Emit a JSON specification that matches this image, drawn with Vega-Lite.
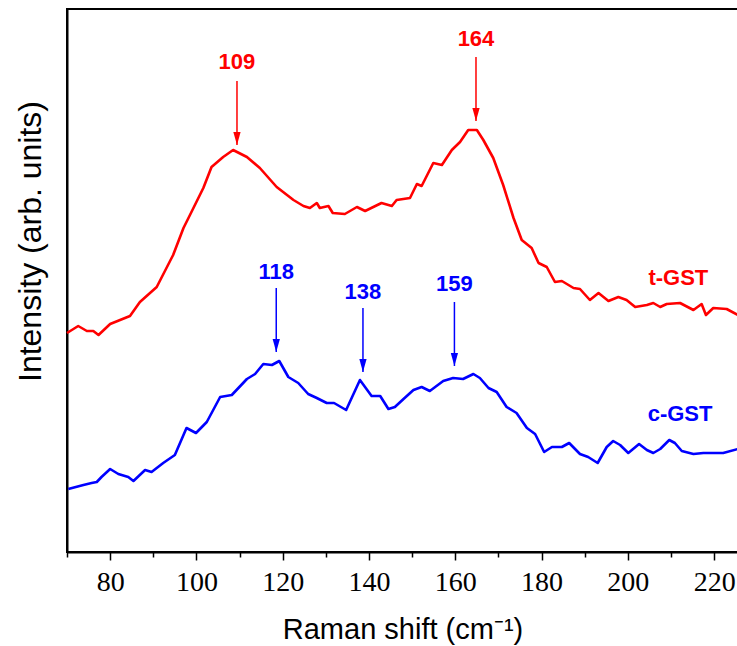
{
  "$schema": "https://vega.github.io/schema/vega-lite/v6.json",
  "width": 671,
  "height": 543,
  "autosize": {"type": "none"},
  "padding": {"left": 67, "top": 9, "right": 0, "bottom": 94},
  "background": "#ffffff",
  "config": {"view": {"stroke": "#000000", "strokeWidth": 2}, "font": "Liberation Sans"},
  "datasets": {
    "spectra": [
      {"sample": "t-GST", "shift": 70.0, "intensity": 219},
      {"sample": "t-GST", "shift": 72.6, "intensity": 226},
      {"sample": "t-GST", "shift": 74.6, "intensity": 221},
      {"sample": "t-GST", "shift": 76.1, "intensity": 221},
      {"sample": "t-GST", "shift": 77.3, "intensity": 217},
      {"sample": "t-GST", "shift": 80.0, "intensity": 228},
      {"sample": "t-GST", "shift": 82.3, "intensity": 232},
      {"sample": "t-GST", "shift": 84.6, "intensity": 236},
      {"sample": "t-GST", "shift": 86.9, "intensity": 250},
      {"sample": "t-GST", "shift": 90.8, "intensity": 265},
      {"sample": "t-GST", "shift": 94.6, "intensity": 297},
      {"sample": "t-GST", "shift": 97.0, "intensity": 324},
      {"sample": "t-GST", "shift": 98.5, "intensity": 337},
      {"sample": "t-GST", "shift": 101.6, "intensity": 364},
      {"sample": "t-GST", "shift": 103.5, "intensity": 385},
      {"sample": "t-GST", "shift": 106.2, "intensity": 395},
      {"sample": "t-GST", "shift": 108.5, "intensity": 402},
      {"sample": "t-GST", "shift": 111.7, "intensity": 395},
      {"sample": "t-GST", "shift": 114.7, "intensity": 384},
      {"sample": "t-GST", "shift": 118.6, "intensity": 365},
      {"sample": "t-GST", "shift": 122.5, "intensity": 352},
      {"sample": "t-GST", "shift": 124.8, "intensity": 346},
      {"sample": "t-GST", "shift": 126.3, "intensity": 344},
      {"sample": "t-GST", "shift": 127.9, "intensity": 349},
      {"sample": "t-GST", "shift": 128.6, "intensity": 344},
      {"sample": "t-GST", "shift": 130.6, "intensity": 346},
      {"sample": "t-GST", "shift": 131.6, "intensity": 339},
      {"sample": "t-GST", "shift": 134.4, "intensity": 338},
      {"sample": "t-GST", "shift": 137.2, "intensity": 345},
      {"sample": "t-GST", "shift": 139.1, "intensity": 341},
      {"sample": "t-GST", "shift": 142.9, "intensity": 349},
      {"sample": "t-GST", "shift": 145.3, "intensity": 346},
      {"sample": "t-GST", "shift": 146.4, "intensity": 352},
      {"sample": "t-GST", "shift": 149.5, "intensity": 354},
      {"sample": "t-GST", "shift": 151.1, "intensity": 368},
      {"sample": "t-GST", "shift": 152.2, "intensity": 366},
      {"sample": "t-GST", "shift": 154.9, "intensity": 389},
      {"sample": "t-GST", "shift": 156.9, "intensity": 387},
      {"sample": "t-GST", "shift": 159.2, "intensity": 402},
      {"sample": "t-GST", "shift": 161.1, "intensity": 410},
      {"sample": "t-GST", "shift": 163.0, "intensity": 422},
      {"sample": "t-GST", "shift": 165.0, "intensity": 422},
      {"sample": "t-GST", "shift": 166.5, "intensity": 412},
      {"sample": "t-GST", "shift": 168.8, "intensity": 394},
      {"sample": "t-GST", "shift": 171.1, "intensity": 367},
      {"sample": "t-GST", "shift": 173.5, "intensity": 334},
      {"sample": "t-GST", "shift": 175.4, "intensity": 312},
      {"sample": "t-GST", "shift": 177.7, "intensity": 304},
      {"sample": "t-GST", "shift": 179.3, "intensity": 289},
      {"sample": "t-GST", "shift": 181.2, "intensity": 285},
      {"sample": "t-GST", "shift": 183.1, "intensity": 270},
      {"sample": "t-GST", "shift": 184.7, "intensity": 271},
      {"sample": "t-GST", "shift": 187.4, "intensity": 264},
      {"sample": "t-GST", "shift": 188.9, "intensity": 263},
      {"sample": "t-GST", "shift": 191.2, "intensity": 252},
      {"sample": "t-GST", "shift": 193.2, "intensity": 259},
      {"sample": "t-GST", "shift": 195.5, "intensity": 251},
      {"sample": "t-GST", "shift": 197.8, "intensity": 255},
      {"sample": "t-GST", "shift": 199.7, "intensity": 252},
      {"sample": "t-GST", "shift": 201.7, "intensity": 245},
      {"sample": "t-GST", "shift": 204.4, "intensity": 247},
      {"sample": "t-GST", "shift": 205.9, "intensity": 249},
      {"sample": "t-GST", "shift": 207.5, "intensity": 245},
      {"sample": "t-GST", "shift": 209.0, "intensity": 248},
      {"sample": "t-GST", "shift": 212.1, "intensity": 249},
      {"sample": "t-GST", "shift": 215.2, "intensity": 242},
      {"sample": "t-GST", "shift": 217.1, "intensity": 248},
      {"sample": "t-GST", "shift": 218.1, "intensity": 237},
      {"sample": "t-GST", "shift": 219.8, "intensity": 244},
      {"sample": "t-GST", "shift": 222.9, "intensity": 243},
      {"sample": "t-GST", "shift": 225.5, "intensity": 237},
      {"sample": "c-GST", "shift": 70.3, "intensity": 63},
      {"sample": "c-GST", "shift": 73.8, "intensity": 67},
      {"sample": "c-GST", "shift": 75.7, "intensity": 69},
      {"sample": "c-GST", "shift": 76.9, "intensity": 70},
      {"sample": "c-GST", "shift": 78.0, "intensity": 75},
      {"sample": "c-GST", "shift": 80.0, "intensity": 83},
      {"sample": "c-GST", "shift": 81.9, "intensity": 78},
      {"sample": "c-GST", "shift": 84.2, "intensity": 75},
      {"sample": "c-GST", "shift": 85.4, "intensity": 71},
      {"sample": "c-GST", "shift": 88.1, "intensity": 82},
      {"sample": "c-GST", "shift": 89.6, "intensity": 80},
      {"sample": "c-GST", "shift": 92.3, "intensity": 89},
      {"sample": "c-GST", "shift": 95.0, "intensity": 97},
      {"sample": "c-GST", "shift": 97.7, "intensity": 124},
      {"sample": "c-GST", "shift": 99.9, "intensity": 119},
      {"sample": "c-GST", "shift": 102.4, "intensity": 130},
      {"sample": "c-GST", "shift": 105.5, "intensity": 155},
      {"sample": "c-GST", "shift": 108.2, "intensity": 157},
      {"sample": "c-GST", "shift": 111.7, "intensity": 173},
      {"sample": "c-GST", "shift": 113.6, "intensity": 178},
      {"sample": "c-GST", "shift": 115.5, "intensity": 188},
      {"sample": "c-GST", "shift": 117.5, "intensity": 187},
      {"sample": "c-GST", "shift": 119.2, "intensity": 191},
      {"sample": "c-GST", "shift": 121.3, "intensity": 175},
      {"sample": "c-GST", "shift": 123.6, "intensity": 169},
      {"sample": "c-GST", "shift": 125.9, "intensity": 158},
      {"sample": "c-GST", "shift": 127.9, "intensity": 154},
      {"sample": "c-GST", "shift": 130.2, "intensity": 149},
      {"sample": "c-GST", "shift": 131.9, "intensity": 149},
      {"sample": "c-GST", "shift": 134.7, "intensity": 142},
      {"sample": "c-GST", "shift": 137.9, "intensity": 172},
      {"sample": "c-GST", "shift": 140.6, "intensity": 156},
      {"sample": "c-GST", "shift": 142.6, "intensity": 156},
      {"sample": "c-GST", "shift": 144.5, "intensity": 143},
      {"sample": "c-GST", "shift": 146.0, "intensity": 145},
      {"sample": "c-GST", "shift": 148.0, "intensity": 153},
      {"sample": "c-GST", "shift": 150.3, "intensity": 162},
      {"sample": "c-GST", "shift": 152.2, "intensity": 165},
      {"sample": "c-GST", "shift": 154.1, "intensity": 161},
      {"sample": "c-GST", "shift": 157.2, "intensity": 171},
      {"sample": "c-GST", "shift": 159.5, "intensity": 174},
      {"sample": "c-GST", "shift": 161.8, "intensity": 173},
      {"sample": "c-GST", "shift": 164.2, "intensity": 178},
      {"sample": "c-GST", "shift": 165.7, "intensity": 174},
      {"sample": "c-GST", "shift": 167.7, "intensity": 164},
      {"sample": "c-GST", "shift": 169.6, "intensity": 160},
      {"sample": "c-GST", "shift": 171.9, "intensity": 145},
      {"sample": "c-GST", "shift": 174.2, "intensity": 139},
      {"sample": "c-GST", "shift": 176.6, "intensity": 124},
      {"sample": "c-GST", "shift": 178.5, "intensity": 118},
      {"sample": "c-GST", "shift": 180.6, "intensity": 100},
      {"sample": "c-GST", "shift": 182.4, "intensity": 105},
      {"sample": "c-GST", "shift": 184.7, "intensity": 105},
      {"sample": "c-GST", "shift": 186.4, "intensity": 109},
      {"sample": "c-GST", "shift": 188.9, "intensity": 98},
      {"sample": "c-GST", "shift": 190.8, "intensity": 95},
      {"sample": "c-GST", "shift": 193.0, "intensity": 89},
      {"sample": "c-GST", "shift": 195.1, "intensity": 105},
      {"sample": "c-GST", "shift": 196.6, "intensity": 111},
      {"sample": "c-GST", "shift": 198.2, "intensity": 107},
      {"sample": "c-GST", "shift": 200.1, "intensity": 99},
      {"sample": "c-GST", "shift": 202.6, "intensity": 108},
      {"sample": "c-GST", "shift": 204.4, "intensity": 102},
      {"sample": "c-GST", "shift": 205.9, "intensity": 99},
      {"sample": "c-GST", "shift": 207.5, "intensity": 103},
      {"sample": "c-GST", "shift": 209.6, "intensity": 112},
      {"sample": "c-GST", "shift": 210.9, "intensity": 109},
      {"sample": "c-GST", "shift": 212.5, "intensity": 101},
      {"sample": "c-GST", "shift": 215.2, "intensity": 98},
      {"sample": "c-GST", "shift": 217.5, "intensity": 99},
      {"sample": "c-GST", "shift": 219.0, "intensity": 99},
      {"sample": "c-GST", "shift": 222.1, "intensity": 99},
      {"sample": "c-GST", "shift": 225.5, "intensity": 103}
    ],
    "peaks": [
      {"sample": "t-GST", "label": "109", "pos": 109.4, "labelY": 490, "start": 471, "tip": 407},
      {"sample": "t-GST", "label": "164", "pos": 164.8, "labelY": 513, "start": 495, "tip": 431},
      {"sample": "c-GST", "label": "118", "pos": 118.5, "labelY": 280, "start": 264, "tip": 200},
      {"sample": "c-GST", "label": "138", "pos": 138.6, "labelY": 260, "start": 244, "tip": 180},
      {"sample": "c-GST", "label": "159", "pos": 159.8, "labelY": 268, "start": 250, "tip": 186}
    ],
    "names": [
      {"sample": "t-GST", "pos": 211.7, "y": 274},
      {"sample": "c-GST", "pos": 212.1, "y": 138}
    ]
  },
  "layer": [
    {
      "data": {"name": "spectra"},
      "mark": {"type": "line", "strokeWidth": 2.6, "strokeJoin": "round"},
      "encoding": {
        "x": {
          "field": "shift", "type": "quantitative",
          "scale": {"domain": [70, 225.53], "nice": false, "zero": false},
          "axis": {
            "title": "Raman shift (cm⁻¹)",
            "values": [70, 80, 90, 100, 110, 120, 130, 140, 150, 160, 170, 180, 190, 200, 210, 220],
            "format": "d",
            "labelExpr": "datum.value % 20 == 0 ? datum.label : ''",
            "grid": false,
            "domainColor": "#000000", "domainWidth": 2,
            "tickColor": "#000000", "tickWidth": 1.5,
            "tickSize": {"condition": {"test": "datum.value % 20 == 0", "value": 8}, "value": 5},
            "labelFont": "Liberation Sans Narrow", "labelFontSize": 28, "labelColor": "#000000",
            "labelBaseline": "alphabetic", "labelPadding": 30, "labelFlush": false, "labelOverlap": false,
            "titleFont": "Liberation Sans", "titleFontSize": 29, "titleFontWeight": "normal", "titleColor": "#000000",
            "titleBaseline": "alphabetic", "titleY": 86
          }
        },
        "y": {
          "field": "intensity", "type": "quantitative",
          "scale": {"domain": [0, 543], "nice": false},
          "axis": {
            "title": "Intensity (arb. units)",
            "ticks": false, "labels": false, "grid": false,
            "domainColor": "#000000", "domainWidth": 2,
            "titleFont": "Liberation Sans", "titleFontSize": 32, "titleFontWeight": "normal", "titleColor": "#000000",
            "titleX": -37, "titleY": 232, "titleAngle": 270, "titleAlign": "center", "titleBaseline": "middle"
          }
        },
        "color": {
          "field": "sample", "type": "nominal",
          "scale": {"domain": ["t-GST", "c-GST"], "range": ["#ff0000", "#0000ff"]},
          "legend": null
        }
      }
    },
    {
      "data": {"name": "peaks"},
      "mark": {"type": "rule", "strokeWidth": 1.5},
      "encoding": {
        "x": {"field": "pos", "type": "quantitative"},
        "y": {"field": "start", "type": "quantitative"},
        "y2": {"field": "tip"},
        "color": {"field": "sample", "type": "nominal", "legend": null}
      }
    },
    {
      "data": {"name": "peaks"},
      "mark": {"type": "point", "shape": "M-0.28,-1L0.28,-1L0,0Z", "filled": true, "size": 676, "opacity": 1, "strokeWidth": 0},
      "encoding": {
        "x": {"field": "pos", "type": "quantitative"},
        "y": {"field": "tip", "type": "quantitative"},
        "color": {"field": "sample", "type": "nominal", "legend": null}
      }
    },
    {
      "data": {"name": "peaks"},
      "mark": {"type": "text", "font": "Liberation Sans", "fontSize": 22, "fontWeight": "bold", "baseline": "middle", "align": "center"},
      "encoding": {
        "x": {"field": "pos", "type": "quantitative"},
        "y": {"field": "labelY", "type": "quantitative"},
        "text": {"field": "label"},
        "color": {"field": "sample", "type": "nominal", "legend": null}
      }
    },
    {
      "data": {"name": "names"},
      "mark": {"type": "text", "font": "Liberation Sans", "fontSize": 22, "fontWeight": "bold", "baseline": "middle", "align": "center"},
      "encoding": {
        "x": {"field": "pos", "type": "quantitative"},
        "y": {"field": "y", "type": "quantitative"},
        "text": {"field": "sample"},
        "color": {"field": "sample", "type": "nominal", "legend": null}
      }
    }
  ]
}
